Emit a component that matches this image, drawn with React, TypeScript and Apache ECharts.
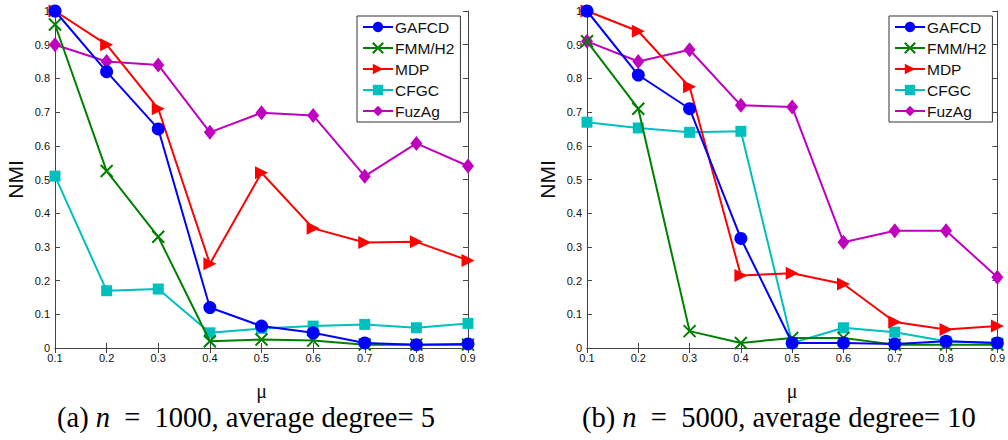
import React, { useEffect, useRef } from "react";
import * as echarts from "echarts";

const mu = ["0.1", "0.2", "0.3", "0.4", "0.5", "0.6", "0.7", "0.8", "0.9"];
const names = ["GAFCD", "FMM/H2", "MDP", "CFGC", "FuzAg"];

// (a) n = 1000, average degree = 5
const aGAFCD = [1.0, 0.82, 0.65, 0.12, 0.065, 0.045, 0.015, 0.01, 0.012];
const aFMM = [0.96, 0.525, 0.33, 0.02, 0.025, 0.022, 0.01, 0.01, 0.01];
const aMDP = [1.0, 0.9, 0.71, 0.25, 0.52, 0.355, 0.313, 0.315, 0.26];
const aCFGC = [0.51, 0.17, 0.175, 0.045, 0.058, 0.065, 0.07, 0.06, 0.073];
const aFuzAg = [0.9, 0.85, 0.84, 0.64, 0.698, 0.69, 0.51, 0.607, 0.54];

// (b) n = 5000, average degree = 10
const bGAFCD = [1.0, 0.81, 0.71, 0.325, 0.015, 0.015, 0.012, 0.02, 0.015];
const bFMM = [0.91, 0.71, 0.05, 0.015, 0.03, 0.03, 0.01, 0.01, 0.01];
const bMDP = [1.0, 0.94, 0.775, 0.215, 0.222, 0.19, 0.077, 0.055, 0.065];
const bCFGC = [0.67, 0.653, 0.64, 0.643, 0.015, 0.06, 0.047, 0.02, 0.015];
const bFuzAg = [0.91, 0.85, 0.885, 0.72, 0.715, 0.314, 0.348, 0.348, 0.21];

const captionA = ["(a) ", "n", "\u2002=\u20021000, average degree= 5"];
const captionB = ["(b) ", "n", "\u2002=\u20025000, average degree= 10"];

const colors = ["#0000FF", "#008000", "#FF0000", "#00BFBF", "#BF00BF"];
const symbols = [
  "circle",
  "path://M0,0L10,10M10,0L0,10",
  "path://M0,0L10,5L0,10Z",
  "rect",
  "diamond",
];
const sizes = [13, 12, 13, 11, [12, 15]];

const axisColor = "#444";
const sans = "Liberation Sans, Arial, sans-serif";
const serif = "Liberation Serif, Times New Roman, serif";

function mkX(grid: number, top: boolean) {
  return {
    type: "category",
    gridIndex: grid,
    data: mu,
    boundaryGap: false,
    position: top ? "top" : "bottom",
    axisLine: { show: true, lineStyle: { color: axisColor, width: 1 } },
    axisTick: { show: true, inside: true, length: 5, lineStyle: { color: axisColor } },
    axisLabel: {
      show: !top,
      color: "#111",
      fontSize: 11,
      fontFamily: sans,
      margin: 4,
      interval: 0,
    },
    splitLine: { show: false },
    name: top ? "" : "μ",
    nameLocation: "middle",
    nameGap: 33,
    nameTextStyle: { fontFamily: serif, fontSize: 20, color: "#111" },
  };
}

function mkY(grid: number, right: boolean) {
  return {
    type: "value",
    gridIndex: grid,
    min: 0,
    max: 1,
    interval: 0.1,
    position: right ? "right" : "left",
    axisLine: { show: true, lineStyle: { color: axisColor, width: 1 } },
    axisTick: { show: true, inside: true, length: 5, lineStyle: { color: axisColor } },
    axisLabel: {
      show: !right,
      color: "#111",
      fontSize: 11,
      fontFamily: sans,
      margin: 5,
      formatter: (v: number) => String(Math.round(v * 10) / 10),
    },
    splitLine: { show: false },
    name: right ? "" : "NMI",
    nameLocation: "middle",
    nameGap: 29,
    nameTextStyle: { fontFamily: sans, fontSize: 21, color: "#111" },
  };
}

function mkSeries(data: number[][], axisBase: number) {
  return data.map((d, i) => ({
    name: names[i],
    type: "line",
    xAxisIndex: axisBase,
    yAxisIndex: axisBase,
    data: d,
    symbol: symbols[i],
    symbolSize: sizes[i],
    showSymbol: true,
    lineStyle: { color: colors[i], width: 2 },
    itemStyle: { color: colors[i], borderColor: colors[i], borderWidth: i === 1 ? 2 : 0 },
    z: 10 - i,
  }));
}

function mkLegend(left: number) {
  return {
    left,
    top: 16,
    orient: "vertical",
    data: names,
    itemWidth: 30,
    itemHeight: 13,
    itemGap: 5,
    padding: [3, 6, 3, 5],
    borderColor: "#333",
    borderWidth: 1,
    backgroundColor: "#fff",
    textStyle: { fontFamily: sans, fontSize: 15.5, color: "#111", padding: [0, 0, 0, -3] },
    selectedMode: false,
  };
}

function mkCaption(parts: string[], left: number) {
  return {
    type: "text",
    left,
    top: 403,
    style: {
      text: `{a|${parts[0]}}{i|${parts[1]}}{a|${parts[2]}}`,
      rich: {
        a: { fontFamily: serif, fontSize: 28.5, fill: "#000" },
        i: { fontFamily: serif, fontSize: 28.5, fontStyle: "italic", fill: "#000" },
      },
    },
  };
}

export default function App() {
  const ref = useRef<HTMLDivElement>(null);
  useEffect(() => {
    document.body.style.margin = "0";
    if (!ref.current) return;
    const chart = echarts.init(ref.current, null, { renderer: "svg" });
    chart.setOption({
      animation: false,
      backgroundColor: "#fff",
      grid: [
        { left: 55, top: 11, width: 413, height: 337 },
        { left: 587, top: 11, width: 413, height: 337 },
      ],
      xAxis: [mkX(0, false), mkX(0, true), mkX(1, false), mkX(1, true)],
      yAxis: [mkY(0, false), mkY(0, true), mkY(1, false), mkY(1, true)],
      legend: [mkLegend(357), mkLegend(889)],
      series: [
        ...mkSeries([aGAFCD, aFMM, aMDP, aCFGC, aFuzAg], 0),
        ...mkSeries([bGAFCD, bFMM, bMDP, bCFGC, bFuzAg], 2),
      ],
      graphic: [mkCaption(captionA, 57), mkCaption(captionB, 582)],
    });
    return () => chart.dispose();
  }, []);
  return <div ref={ref} style={{ width: 1008, height: 440 }} />;
}
